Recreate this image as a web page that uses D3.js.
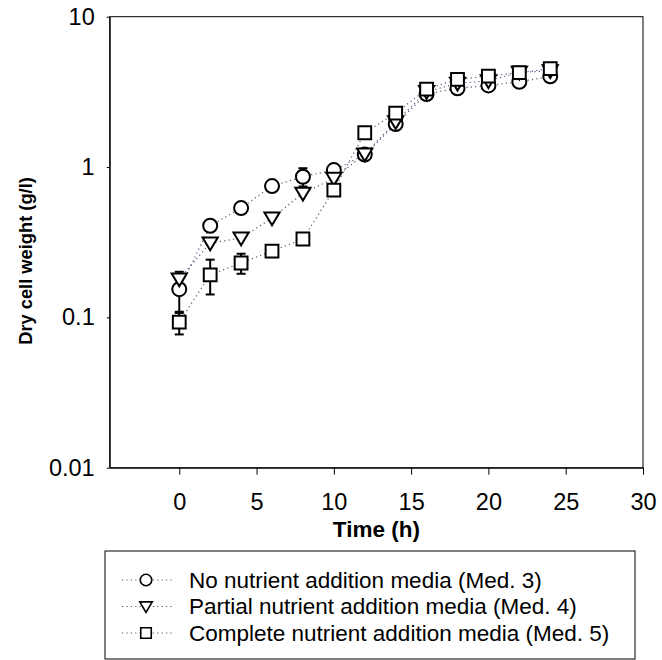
<!DOCTYPE html>
<html>
<head>
<meta charset="utf-8">
<script src="https://cdn.jsdelivr.net/npm/d3@7"></script>
<style>
  html, body { margin: 0; padding: 0; background: #fff; }
  svg { display: block; font-family: "Liberation Sans", Arial, sans-serif; }
</style>
</head>
<body>
<svg id="chart" width="662" height="660"></svg>
<script>
// ---- data ----
const times = [0, 2, 4, 6, 8, 10, 12, 14, 16, 18, 20, 22, 24];
const med3 = [0.154, 0.407, 0.533, 0.747, 0.862, 0.955, 1.21, 1.93, 3.06, 3.34, 3.49, 3.69, 4.01];
const med4 = [0.18, 0.312, 0.337, 0.457, 0.668, 0.84, 1.22, 2.0, 3.17, 3.6, 3.75, 4.26, 4.37];
const med5 = [0.093, 0.192, 0.23, 0.276, 0.332, 0.703, 1.69, 2.28, 3.3, 3.83, 4.03, 4.24, 4.51];
const med3Err = [0.047, 0.03, 0, 0, 0.12, 0, 0, 0, 0, 0, 0, 0, 0];
const med4Err = [0, 0, 0, 0, 0, 0, 0, 0, 0, 0, 0, 0, 0];
const med5Err = [0.016, 0.05, 0.035, 0, 0, 0, 0, 0, 0, 0, 0, 0, 0];
const seriesNames = [
  "No nutrient addition media (Med. 3)",
  "Partial nutrient addition media (Med. 4)",
  "Complete nutrient addition media (Med. 5)"
];
const seriesShapes = ["circle", "triangle", "square"];
const xTicks = [0, 5, 10, 15, 20, 25, 30];
const yTicks = [0.01, 0.1, 1, 10];
const yTickLabels = ["0.01", "0.1", "1", "10"];
const xDomain = [-4.5, 30];
const yDomain = [0.01, 10];
const xTitle = "Time (h)";
const yTitle = "Dry cell weight (g/l)";

// ---- layout ----
const L = 109.7, R = 643, T = 16.7, B = 467.7;
const svg = d3.select("#chart");
const x = d3.scaleLinear().domain(xDomain).range([L, R]);
const y = d3.scaleLog().domain(yDomain).range([B, T]);

const dotColor = "#55557f";

function shapePath(shape, s) {
  if (shape === "circle") {
    const r = 7 * s;
    return `M${-r},0A${r},${r} 0 1,0 ${r},0A${r},${r} 0 1,0 ${-r},0Z`;
  } else if (shape === "triangle") {
    const w = 7.6 * s, h1 = 5.6 * s, h2 = 7.2 * s;
    return `M${-w},${-h1}L${w},${-h1}L0,${h2}Z`;
  } else {
    const a = 6.4 * s;
    return `M${-a},${-a}L${a},${-a}L${a},${a}L${-a},${a}Z`;
  }
}

// ---- frame ----
svg.append("rect")
  .attr("x", L).attr("y", T).attr("width", R - L).attr("height", B - T)
  .attr("fill", "none").attr("stroke", "#000").attr("stroke-width", 1);

// x axis
const xAxis = d3.axisBottom(x).tickValues(xTicks).tickSize(7).tickPadding(18.5).tickSizeOuter(0);
const gx = svg.append("g").attr("transform", `translate(0,${B})`).call(xAxis);
gx.select(".domain").attr("stroke", "#000");
gx.selectAll(".tick line").attr("stroke", "#000").attr("stroke-width", 1);
gx.selectAll(".tick text").attr("font-size", 23.5).attr("fill", "#000")
  .attr("font-family", "Liberation Sans, Arial, sans-serif");

// y axis
const yAxis = d3.axisLeft(y).tickValues(yTicks)
  .tickFormat((d, i) => yTickLabels[i]).tickSize(3).tickPadding(12).tickSizeOuter(0);
const gy = svg.append("g").attr("transform", `translate(${L},0)`).call(yAxis);
gy.select(".domain").attr("stroke", "#000");
gy.selectAll(".tick line").attr("stroke", "#000");
gy.selectAll(".tick text").attr("font-size", 23.5).attr("fill", "#000")
  .attr("font-family", "Liberation Sans, Arial, sans-serif");

// titles
svg.append("text").attr("x", (L + R) / 2).attr("y", 537)
  .attr("text-anchor", "middle").attr("font-size", 22.5).attr("font-weight", "bold")
  .text(xTitle);
svg.append("text").attr("transform", "translate(32,261) rotate(-90)")
  .attr("text-anchor", "middle").attr("font-size", 18.3).attr("font-weight", "bold")
  .text(yTitle);

// ---- series ----
const allSeries = [
  { vals: med3, err: med3Err, shape: seriesShapes[0] },
  { vals: med4, err: med4Err, shape: seriesShapes[1] },
  { vals: med5, err: med5Err, shape: seriesShapes[2] }
];

const line = d3.line().x(d => x(d.t)).y(d => y(d.v));
const plot = svg.append("g");

allSeries.forEach(s => {
  const pts = times.map((t, i) => ({ t, v: s.vals[i] }));
  plot.append("path").datum(pts).attr("d", line)
    .attr("fill", "none").attr("stroke", dotColor).attr("stroke-width", 1.2)
    .attr("stroke-dasharray", "1.2,3.2");
});

allSeries.forEach(s => {
  const g = plot.append("g");
  times.forEach((t, i) => {
    const e = s.err[i];
    if (e > 0) {
      const cx = x(t);
      const y1 = y(s.vals[i] + e), y0 = y(s.vals[i] - e);
      g.append("line").attr("x1", cx).attr("x2", cx).attr("y1", y1).attr("y2", y0)
        .attr("stroke", "#000").attr("stroke-width", 2);
      [y1, y0].forEach(yy => {
        g.append("line").attr("x1", cx - 4.5).attr("x2", cx + 4.5).attr("y1", yy).attr("y2", yy)
          .attr("stroke", "#000").attr("stroke-width", 2);
      });
    }
  });
  times.forEach((t, i) => {
    g.append("path").attr("d", shapePath(s.shape, 1))
      .attr("transform", `translate(${x(t)},${y(s.vals[i])})`)
      .attr("fill", "#fff").attr("stroke", "#000").attr("stroke-width", 2);
  });
});

// ---- legend ----
const lg = svg.append("g");
lg.append("rect").attr("x", 105).attr("y", 551).attr("width", 530).attr("height", 108)
  .attr("fill", "#fff").attr("stroke", "#000").attr("stroke-width", 1);
const rowY = [580, 606.5, 633];
seriesNames.forEach((name, i) => {
  const yy = rowY[i];
  lg.append("line").attr("x1", 122).attr("x2", 172).attr("y1", yy).attr("y2", yy)
    .attr("stroke", dotColor).attr("stroke-width", 1.2).attr("stroke-dasharray", "1.2,3.2");
  lg.append("path").attr("d", shapePath(seriesShapes[i], 0.82))
    .attr("transform", `translate(146,${yy})`)
    .attr("fill", "#fff").attr("stroke", "#000").attr("stroke-width", 1.6);
  lg.append("text").attr("x", 189).attr("y", yy + 7.5)
    .attr("font-size", 22.5).attr("fill", "#000").text(name);
});
</script>
</body>
</html>
